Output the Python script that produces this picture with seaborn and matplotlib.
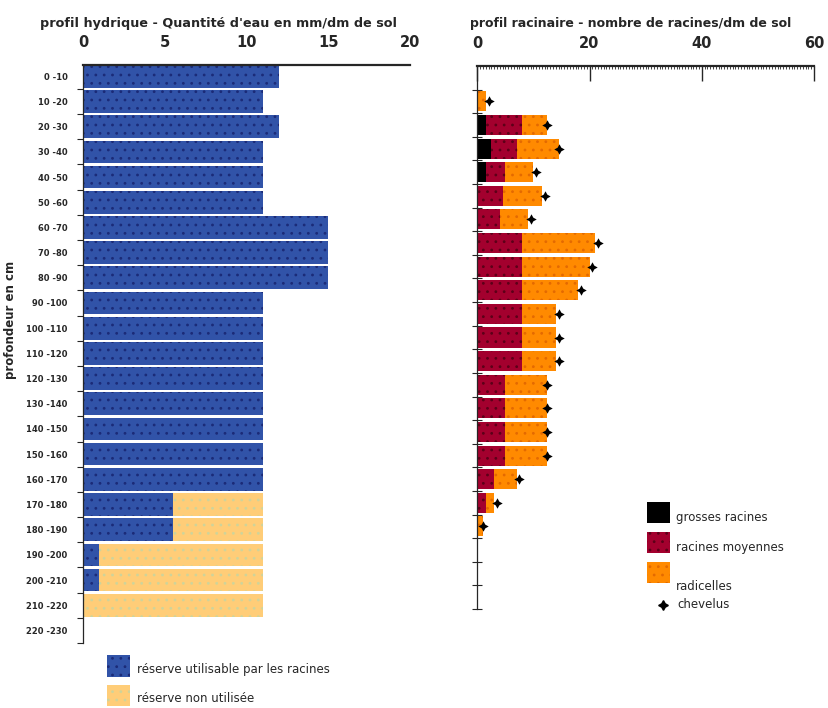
import numpy as np
import pandas as pd
import matplotlib
matplotlib.use("Agg")
import matplotlib.pyplot as plt
from matplotlib.patches import Rectangle
from matplotlib.lines import Line2D
import seaborn as sns

# Soil layers (cm)
depths = ["0 -10", "10 -20", "20 -30", "30 -40", "40 -50", "50 -60", "60 -70",
          "70 -80", "80 -90", "90 -100", "100 -110", "110 -120", "120 -130",
          "130 -140", "140 -150", "150 -160", "160 -170", "170 -180",
          "180 -190", "190 -200", "200 -210", "210 -220", "220 -230"]

# Water profile, mm per dm of soil
reserve_utilisable = [12, 11, 12, 11, 11, 11, 15, 15, 15, 11, 11, 11, 11,
                      11, 11, 11, 11, 5.5, 5.5, 1, 1, 0, 0]
reserve_non_utilisee = [0, 0, 0, 0, 0, 0, 0, 0, 0, 0, 0, 0, 0,
                        0, 0, 0, 0, 5.5, 5.5, 10, 10, 11, 0]

# Root profile, number of roots per dm of soil
grosses_racines = [0, 0, 1.5, 2.5, 1.5, 0, 0, 0, 0, 0, 0, 0, 0,
                   0, 0, 0, 0, 0, 0, 0, 0, 0, 0]
racines_moyennes = [0, 0, 6.5, 4.5, 3.5, 4.5, 4, 8, 8, 8, 8, 8, 8,
                    5, 5, 5, 5, 3, 1.5, 0, 0, 0, 0]
radicelles = [0, 1.5, 4.5, 7.5, 5, 7, 5, 13, 12, 10, 6, 6, 6,
              7.5, 7.5, 7.5, 7.5, 4, 1.5, 1, 0, 0, 0]
chevelus = [np.nan, 2, 12.5, 14.5, 10.5, 12, 9.5, 21.5, 20.5, 18.5, 14.5, 14.5, 14.5,
            12.5, 12.5, 12.5, 12.5, 7.5, 3.5, 1, np.nan, np.nan, np.nan]

water_ticks = [0, 5, 10, 15, 20]
root_ticks = [0, 20, 40, 60]

sns.set_style("white")
plt.rcParams["font.family"] = ["DejaVu Sans"]
plt.rcParams["hatch.linewidth"] = 0.8

BLUE, BLUE_H = "#3153a8", "#1b2b78"
YELLOW, YELLOW_H = "#ffcd78", "#cfd49a"
MAROON, MAROON_H = "#a3002e", "#5c0018"
ORANGE, ORANGE_H = "#ff8a00", "#e46a00"

W, H = 829, 708
fig = plt.figure(figsize=(W / 100, H / 100), dpi=100)
ax1 = fig.add_axes([83 / W, 1 - 643 / H, 327 / W, 578 / H])
ax2 = fig.add_axes([477.3 / W, 1 - 609 / H, 336.7 / W, 543 / H])

# ---- water profile (stacked: usable reserve, then unused reserve) ----
water = pd.DataFrame({
    "depth": depths,
    "used": reserve_utilisable,
    "total": np.add(reserve_utilisable, reserve_non_utilisee),
})
common = dict(y="depth", order=depths, orient="h", errorbar=None,
              saturation=1, linewidth=0)
sns.barplot(data=water, x="total", color=YELLOW, edgecolor=YELLOW_H,
            hatch="..", width=0.9, ax=ax1, **common)
sns.barplot(data=water, x="used", color=BLUE, edgecolor=BLUE_H,
            hatch="..", width=0.9, ax=ax1, **common)

# ---- root profile (stacked by root size) ----
g = np.array(grosses_racines)
m = g + np.array(racines_moyennes)
r = m + np.array(radicelles)
roots = pd.DataFrame({"depth": depths, "g": g, "m": m, "r": r, "chev": chevelus})
sns.barplot(data=roots, x="r", color=ORANGE, edgecolor=ORANGE_H,
            hatch="..", width=0.85, ax=ax2, **common)
sns.barplot(data=roots, x="m", color=MAROON, edgecolor=MAROON_H,
            hatch="..", width=0.85, ax=ax2, **common)
sns.barplot(data=roots, x="g", color="black", edgecolor="black",
            width=0.85, ax=ax2, **common)
sns.stripplot(data=roots.dropna(), x="chev", y="depth", order=depths,
              orient="h", jitter=False, color="black", marker=(4, 1, 0),
              size=7.5, linewidth=0, ax=ax2)

# ---- axes styling ----
n = len(depths)
bounds = np.arange(n) + 0.5
for ax in (ax1, ax2):
    ax.set_xlabel("")
    ax.set_ylabel("")
    ax.xaxis.tick_top()
    for s in ("right", "bottom"):
        ax.spines[s].set_visible(False)
    ax.spines["top"].set_linewidth(1.6)
    ax.spines["left"].set_linewidth(0.9)
    ax.set_yticks(bounds, minor=True)
    ax.tick_params(axis="y", which="both", left=True)
    ax.tick_params(axis="y", which="major", length=0)

ax1.set_xlim(0, 20)
ax1.set_xticks(water_ticks)
ax1.set_ylim(n - 0.5, -0.45)
ax1.set_yticks(range(n))
ax1.set_yticklabels(depths, fontsize=6, fontweight="bold")
ax1.tick_params(axis="y", which="major", pad=11)
ax1.tick_params(axis="y", which="minor", length=4, width=0.8, direction="out")
ax1.tick_params(axis="x", which="major", length=0, pad=11, labelsize=10.5)
for t in ax1.get_xticklabels():
    t.set_fontweight("bold")

ax2.set_xlim(0, 60)
ax2.set_xticks(root_ticks)
ax2.set_xticks(np.arange(0, 60.1, 0.5), minor=True)
ax2.set_ylim(n - 0.5, -0.5)
ax2.set_yticklabels([])
ax2.tick_params(axis="y", which="minor", length=7, width=0.8, direction="inout")
ax2.tick_params(axis="x", which="major", length=11, width=1.0, direction="in",
                pad=11, labelsize=10.5)
ax2.tick_params(axis="x", which="minor", length=2.5, width=0.6, direction="in")
for t in ax2.get_xticklabels():
    t.set_fontweight("bold")

# ---- titles and axis label ----
fig.text(40 / W, 1 - 23 / H, "profil hydrique - Quantité d'eau en mm/dm de sol",
         fontsize=9.2, fontweight="bold", va="center", ha="left")
fig.text(470 / W, 1 - 23 / H, "profil racinaire - nombre de racines/dm de sol",
         fontsize=9, fontweight="bold", va="center", ha="left")
fig.text(11 / W, 1 - 320 / H, "profondeur en cm", rotation=90,
         fontsize=8.5, fontweight="bold", va="center", ha="center")

# ---- legends ----
def swatch(x0, y0, x1, y1, face, edge, hatch=None):
    fig.add_artist(Rectangle((x0 / W, 1 - y1 / H), (x1 - x0) / W, (y1 - y0) / H,
                             transform=fig.transFigure, facecolor=face,
                             edgecolor=edge, hatch=hatch, linewidth=0))

swatch(107, 655, 130, 677, BLUE, BLUE_H, "..")
fig.text(137 / W, 1 - 670 / H, "réserve utilisable par les racines",
         fontsize=8.5, va="center", ha="left")
swatch(107, 685, 130, 706, YELLOW, YELLOW_H, "..")
fig.text(137 / W, 1 - 699 / H, "réserve non utilisée",
         fontsize=8.5, va="center", ha="left")

swatch(647, 502, 670, 523, "black", "black")
fig.text(676 / W, 1 - 517 / H, "grosses racines", fontsize=8.5, va="center", ha="left")
swatch(647, 532, 670, 553, MAROON, MAROON_H, "..")
fig.text(676 / W, 1 - 548 / H, "racines moyennes", fontsize=8.5, va="center", ha="left")
swatch(647, 562, 670, 583, ORANGE, ORANGE_H, "..")
fig.text(676 / W, 1 - 587 / H, "radicelles", fontsize=8.5, va="center", ha="left")
fig.add_artist(Line2D([663 / W], [1 - 605 / H], transform=fig.transFigure,
                      marker=(4, 1, 0), markersize=7, color="black", linestyle="none"))
fig.text(677 / W, 1 - 605 / H, "chevelus", fontsize=8.5, va="center", ha="left")

fig.savefig("out.png", dpi=100)
